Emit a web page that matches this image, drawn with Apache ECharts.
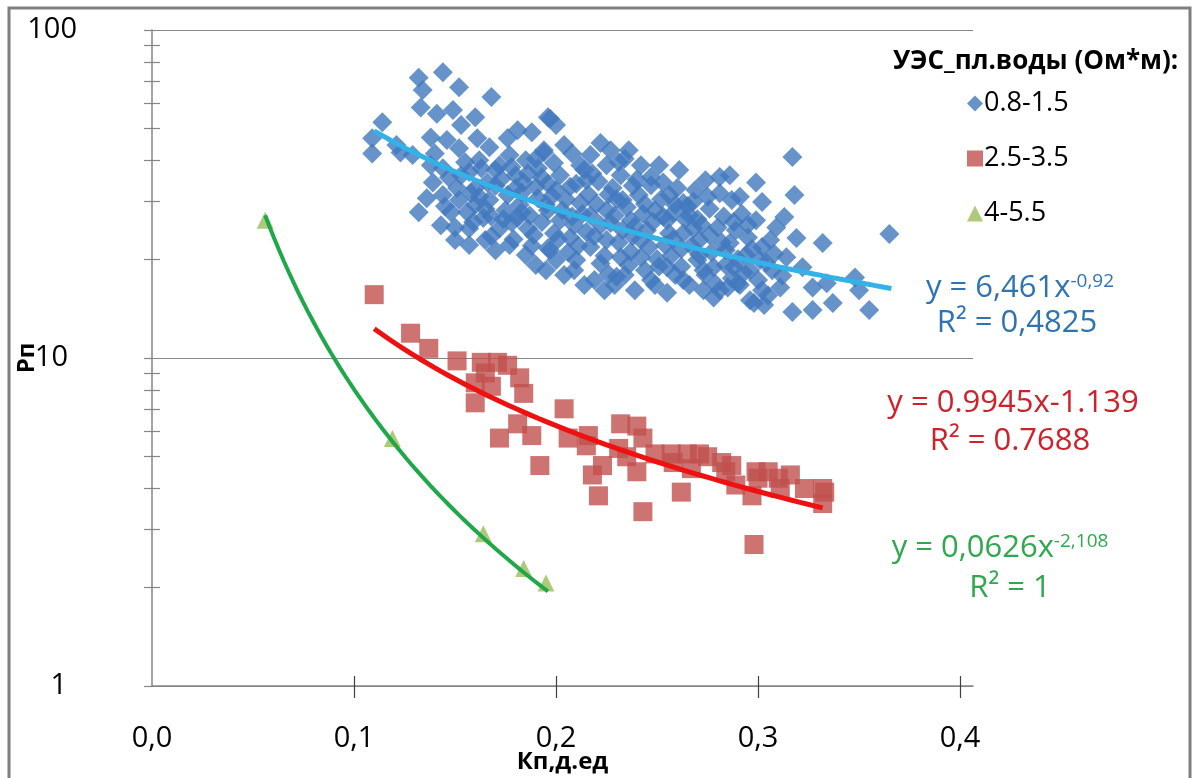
<!DOCTYPE html>
<html><head><meta charset="utf-8">
<script src="https://cdn.jsdelivr.net/npm/echarts@6/dist/echarts.min.js"></script>
<style>html,body{margin:0;padding:0;background:#fff}#c{width:1200px;height:778px}</style>
</head><body><div id="c"></div>
<script>
// ---- tick labels / categories ----
const xTicks = [0, 0.1, 0.2, 0.3, 0.4];
const xTickMarks = [0.1, 0.2, 0.3, 0.4];
const yTicks = [1, 10, 100];
const yMinorTicks = [2, 3, 4, 5, 6, 7, 8, 9, 20, 30, 40, 50, 60, 70, 80, 90];
const seriesNames = ['0.8-1.5', '2.5-3.5', '4-5.5'];
const legendTitle = 'УЭС_пл.воды (Ом*м):';

// ---- series values [Кп, Рп] ----
const blueData = [
[0.132,71.5],[0.144,74.3],[0.152,66.9],[0.168,62.5],[0.134,65.6],[0.133,58],[0.141,55.5],[0.114,52.3],[0.109,46.8],[0.109,42.0],
[0.123,42.3],[0.129,41.6],[0.149,57],[0.153,51.3],[0.160,54.2],[0.138,47],[0.146,46.2],[0.152,43.6],[0.161,46.8],[0.167,43.9],
[0.176,46.8],[0.181,49.5],[0.188,48.8],[0.196,54.2],[0.138,38.7],[0.144,37.9],[0.139,34.3],[0.136,30.7],[0.144,31.4],[0.151,33.0],
[0.148,27.8],[0.156,27.8],[0.157,36.9],[0.166,34.3],[0.172,38.7],[0.176,31.4],[0.164,26.7],[0.172,24.8],[0.181,26.7],[0.184,34.3],
[0.191,30.7],[0.189,23.7],[0.196,21.6],[0.191,37.9],[0.132,27.8],[0.157,24.8],[0.194,42.3],
[0.197,53.6],[0.199,39.3],[0.208,42.0],[0.222,45.2],[0.236,43.0],[0.231,39.6],[0.225,38.7],[0.215,34.8],[0.207,33.3],[0.196,34.0],
[0.247,35.6],[0.253,34.3],[0.263,29.7],[0.281,35.6],[0.281,31.8],[0.287,30.3],[0.241,31.4],[0.233,30.3],[0.225,28.2],[0.212,29.7],
[0.203,28.2],[0.199,24.0],[0.207,23.3],[0.197,21.3],[0.217,21.8],[0.225,22.9],[0.233,24.5],[0.245,24.5],[0.255,26.3],[0.263,24.0],
[0.271,22.9],[0.280,25.0],[0.286,22.4],[0.210,19.9],[0.222,19.4],[0.232,20.3],[0.242,20.3],[0.230,17.7],[0.247,17.3],[0.255,18.9],
[0.263,17.3],[0.270,19.9],[0.278,18.9],[0.285,16.4],[0.273,16.1],[0.255,15.8],[0.288,18.9],[0.278,15.3],[0.196,28.2],[0.194,43.0],
[0.317,41.0],[0.318,31.4],[0.302,29.9],[0.291,31.0],[0.313,26.9],[0.319,23.2],[0.332,22.4],[0.365,23.9],[0.302,21.8],[0.295,23.3],
[0.314,20.3],[0.322,18.9],[0.307,18.5],[0.296,18.5],[0.290,16.9],[0.302,16.1],[0.311,16.4],[0.327,16.4],[0.334,16.9],[0.350,16.1],
[0.337,14.7],[0.317,13.8],[0.327,14.0],[0.355,14.0],[0.281,16.1],[0.298,14.7],[0.348,17.6],
[0.143,25.4],[0.150,22.9],[0.157,22.1],[0.165,22.9],[0.170,21.3],[0.177,22.1],[0.185,20.6],[0.190,19.2],[0.195,18.5],[0.200,19.9],
[0.204,17.9],[0.209,18.5],[0.214,16.7],[0.219,17.3],[0.224,16.1],[0.229,16.7],[0.234,17.9],[0.239,16.1],[0.244,18.5],[0.249,16.7],
[0.259,17.9],[0.266,16.7],[0.274,17.9],[0.291,16.7],[0.296,15.0],[0.303,14.5],
[0.152,30.3],[0.160,29.3],[0.167,30.3],[0.175,28.2],[0.182,29.3],[0.187,27.2],[0.195,29.3],[0.202,26.3],[0.209,25.4],[0.217,27.2],
[0.222,25.4],[0.229,27.2],[0.237,26.3],[0.242,22.9],[0.249,28.2],[0.254,22.1],[0.259,29.3],[0.266,27.2],[0.271,20.6],[0.276,23.7],
[0.284,21.3],[0.289,24.5],[0.294,20.6],[0.299,26.3],[0.301,19.9],[0.306,22.9],
[0.162,40.1],[0.170,37.4],[0.177,41.6],[0.180,36.1],[0.185,40.1],[0.202,36.1],[0.204,44.6],[0.212,38.7],[0.217,41.6],[0.227,43.0],
[0.232,36.1],[0.242,38.7],[0.247,33.6],[0.251,38.7],[0.256,31.4],[0.261,37.4],[0.269,32.5],[0.274,34.8],[0.286,36.1],[0.299,34.3],
[0.200,51.3],[0.121,44.6],
[0.160,33.0],[0.170,33.5],[0.178,25.9],[0.186,24.8],[0.165,28.5],[0.183,31.9],[0.215,24.2],[0.237,21.1],[0.250,20.0],[0.262,21.5],
[0.268,24.8],[0.226,31.5],[0.238,33.5],[0.218,36.5],[0.258,27.7],[0.292,27.5],[0.309,25.0],
[0.140,42.0],[0.147,35.5],[0.155,39.5],[0.158,31.8],[0.163,37.9],[0.168,27.0],[0.173,35.2],[0.178,38.2],[0.183,27.8],[0.186,36.5],
[0.190,33.2],[0.193,26.0],[0.198,31.2],[0.201,23.0],[0.205,30.5],[0.206,21.0],[0.210,34.0],[0.213,27.5],[0.216,31.5],[0.219,23.5],
[0.221,34.5],[0.224,20.5],[0.227,25.8],[0.228,33.0],[0.231,22.5],[0.235,28.8],[0.236,19.2],[0.239,25.2],[0.240,35.0],[0.244,29.5],
[0.246,21.8],[0.248,26.0],[0.251,19.0],[0.252,30.5],[0.256,24.0],[0.257,20.5],[0.260,33.0],[0.262,19.0],[0.264,26.5],[0.267,22.0],
[0.268,30.0],[0.272,25.5],[0.273,18.5],[0.276,28.5],[0.277,21.0],[0.279,16.8],[0.283,27.0],[0.284,19.2],[0.287,17.5],[0.290,20.0],
[0.293,18.2],[0.297,21.5],[0.300,17.3],[0.304,19.5],[0.305,15.5],[0.308,20.8],[0.312,17.8],[0.145,29.0],[0.150,25.0],[0.153,36.0],
[0.159,26.0],[0.162,31.0],[0.168,23.5],[0.174,26.5],[0.179,23.0],[0.180,33.0],[0.188,22.0],[0.190,40.5],[0.193,35.5],[0.200,32.5],
[0.208,27.0],[0.211,22.0],[0.214,37.5],[0.220,29.5],[0.226,18.0],[0.230,30.5],[0.234,40.5],[0.238,23.5],[0.243,27.5],[0.253,27.0],
[0.258,23.0],[0.265,29.0],[0.270,26.5],[0.275,31.0],[0.282,22.5],[0.288,26.0],[0.295,25.5]
];
const redData = [
[0.110,15.6],[0.128,11.9],[0.137,10.7],[0.151,9.8],[0.163,9.7],[0.171,9.7],[0.160,8.4],[0.168,8.2],[0.182,8.7],[0.184,7.8],
[0.160,7.3],[0.172,5.7],[0.181,6.3],[0.188,5.8],[0.192,4.7],[0.204,7.0],[0.206,5.7],[0.216,5.8],[0.215,5.4],[0.223,4.7],
[0.218,4.4],[0.221,3.8],[0.232,6.3],[0.240,6.2],[0.243,5.7],[0.231,5.3],[0.235,5.0],[0.240,4.5],[0.243,3.4],[0.249,5.1],
[0.257,5.1],[0.265,5.1],[0.271,5.1],[0.267,4.6],[0.262,3.9],[0.282,4.8],[0.287,4.7],[0.284,4.5],[0.289,4.1],[0.299,4.5],
[0.305,4.5],[0.297,3.8],[0.298,2.7],[0.316,4.4],[0.323,4.0],[0.332,4.0],[0.332,3.6],[0.311,4.0],[0.176,9.5],[0.165,9.0],
[0.258,4.8],[0.275,5.0],[0.300,4.3],[0.310,4.3],[0.333,3.9]
];
const greenData = [[0.056,26.3],[0.119,5.68],[0.164,2.91],[0.184,2.28],[0.195,2.06]];

// ---- trend lines (power fits shown on the chart: y = a·x^b) ----
const trendA = [6.461, 0.9945, 0.0626];
const trendB = [-0.92, -1.139, -2.108];
const trendFrom = [0.110, 0.110, 0.056];
const trendTo = [0.366, 0.332, 0.196];

function trend(i) {
  const pts = [], n = 60;
  for (let k = 0; k <= n; k++) {
    const x = trendFrom[i] + (trendTo[i] - trendFrom[i]) * k / n;
    pts.push([x, trendA[i] * Math.pow(x, trendB[i])]);
  }
  return pts;
}

const FONT = "'Open Sans', 'DejaVu Sans', sans-serif";
const AX = '#868686';
const chart = echarts.init(document.getElementById('c'), null, {renderer: 'canvas'});

const xBase = {type: 'value', min: 0, max: 0.4064, gridIndex: 0, splitLine: {show: false}};
const yBase = {type: 'log', logBase: 10, min: 1, max: 100, gridIndex: 0};

function eqText(x, y, main, sup, color) {
  return {
    type: 'text', x: x, y: y, silent: true,
    style: {
      text: sup ? '{m|' + main + '}{s|' + sup + '}' : '{m|' + main + '}',
      align: 'center', verticalAlign: 'middle',
      rich: {
        m: {fontSize: 31, fontFamily: FONT, fill: color, color: color},
        s: {fontSize: 19, fontFamily: FONT, fill: color, color: color, verticalAlign: 'top'}
      }
    }
  };
}

chart.setOption({
  animation: false,
  backgroundColor: '#ffffff',
  textStyle: {fontFamily: FONT},
  grid: {left: 152, top: 30, right: 227, bottom: 92, containLabel: false, outerBoundsMode: 'none'},
  title: {
    text: legendTitle, left: 888, top: 44,
    textStyle: {fontFamily: FONT, fontSize: 26, fontWeight: 'bold', color: '#000'}
  },
  legend: {
    data: seriesNames, orient: 'vertical', left: 962, top: 85,
    itemGap: 28, itemWidth: 16, itemHeight: 16,
    textStyle: {fontFamily: FONT, fontSize: 27, color: '#000', padding: [0, 0, 0, -4]},
    selectedMode: false
  },
  xAxis: [
    Object.assign({}, xBase, {
      position: 'bottom',
      name: 'Кп,д.ед', nameLocation: 'middle', nameGap: 64, nameMoveOverlap: false,
      nameTextStyle: {fontFamily: FONT, fontSize: 24, fontWeight: 'bold', color: '#000'},
      axisLine: {show: true, onZero: false, lineStyle: {color: AX, width: 1.5}},
      axisTick: {show: true, customValues: xTickMarks, length: 12, inside: false, lineStyle: {color: '#404040', width: 1.2}},
      axisLabel: {customValues: xTicks, margin: 38, fontFamily: FONT, fontSize: 29, color: '#000',
        formatter: v => Number(v).toFixed(1).replace('.', ',')}
    }),
    Object.assign({}, xBase, {
      position: 'bottom',
      axisLine: {show: false},
      axisTick: {show: true, customValues: xTickMarks, length: 10, inside: true, lineStyle: {color: '#404040', width: 1.2}},
      axisLabel: {show: false}
    })
  ],
  yAxis: [
    Object.assign({}, yBase, {
      position: 'left',
      name: 'Рп', nameLocation: 'middle', nameGap: 113, nameRotate: 90, nameMoveOverlap: false,
      nameTextStyle: {fontFamily: FONT, fontSize: 24, fontWeight: 'bold', color: '#000'},
      axisLine: {show: true, lineStyle: {color: AX, width: 1.5}},
      axisTick: {show: true, length: 8, inside: false, lineStyle: {color: AX, width: 1.2}},
      axisLabel: {margin: 75, fontFamily: FONT, fontSize: 29, color: '#000',
        formatter: v => v >= 100 ? '{a|' + v + '}' : (v >= 10 ? '{b|' + v + '}' : '{c|' + v + '}'),
        rich: {
          a: {fontFamily: FONT, fontSize: 29, color: '#000'},
          b: {fontFamily: FONT, fontSize: 29, color: '#000', padding: [0, 9, 0, 0]},
          c: {fontFamily: FONT, fontSize: 29, color: '#000', padding: [0, 10, 0, 0]}
        }},
      splitLine: {show: true, lineStyle: {color: AX, width: 1.2}}
    }),
    Object.assign({}, yBase, {
      position: 'left',
      axisLine: {show: false},
      axisTick: {show: true, customValues: yMinorTicks, length: 8, inside: false, lineStyle: {color: AX, width: 1.2}},
      axisLabel: {show: false},
      splitLine: {show: false}
    }),
    Object.assign({}, yBase, {
      position: 'left',
      axisLine: {show: false},
      axisTick: {show: true, customValues: yMinorTicks, length: 8, inside: true, lineStyle: {color: AX, width: 1.2}},
      axisLabel: {show: false},
      splitLine: {show: false}
    })
  ],
  series: [
    {name: seriesNames[0], type: 'scatter', symbol: 'diamond', symbolSize: 20, data: blueData,
     itemStyle: {color: '#4178be'}, z: 2},
    {name: seriesNames[1], type: 'scatter', symbol: 'rect', symbolSize: 19, data: redData,
     itemStyle: {color: '#c0504d'}, z: 2},
    {name: seriesNames[2], type: 'scatter', symbol: 'triangle', symbolSize: 17, data: greenData,
     itemStyle: {color: '#9bbb59'}, z: 2},
    {name: 'trend1', type: 'line', data: trend(0), showSymbol: false, symbol: 'none', silent: true,
     lineStyle: {color: '#33b2e8', width: 5}, z: 5},
    {name: 'trend2', type: 'line', data: trend(1), showSymbol: false, symbol: 'none', silent: true,
     lineStyle: {color: '#ee1111', width: 5}, z: 5},
    {name: 'trend3', type: 'line', data: trend(2), showSymbol: false, symbol: 'none', silent: true,
     lineStyle: {color: '#1ea84a', width: 4}, z: 5}
  ],
  graphic: [
    {type: 'rect', silent: true, z: 100, shape: {x: 9, y: 8, width: 1181, height: 800},
     style: {fill: 'none', stroke: '#7f7f7f', lineWidth: 3}},
    eqText(1020, 288, 'y = 6,461x', '-0,92', '#2e74b5'),
    eqText(1017, 323, 'R² = 0,4825', null, '#2e74b5'),
    eqText(1013, 403, 'y = 0.9945x-1.139', null, '#d0202a'),
    eqText(1010, 441, 'R² = 0.7688', null, '#d0202a'),
    eqText(1000, 548, 'y = 0,0626x', '-2,108', '#2fa84f'),
    eqText(1010, 588, 'R² = 1', null, '#2fa84f')
  ]
});
</script>
</body></html>
